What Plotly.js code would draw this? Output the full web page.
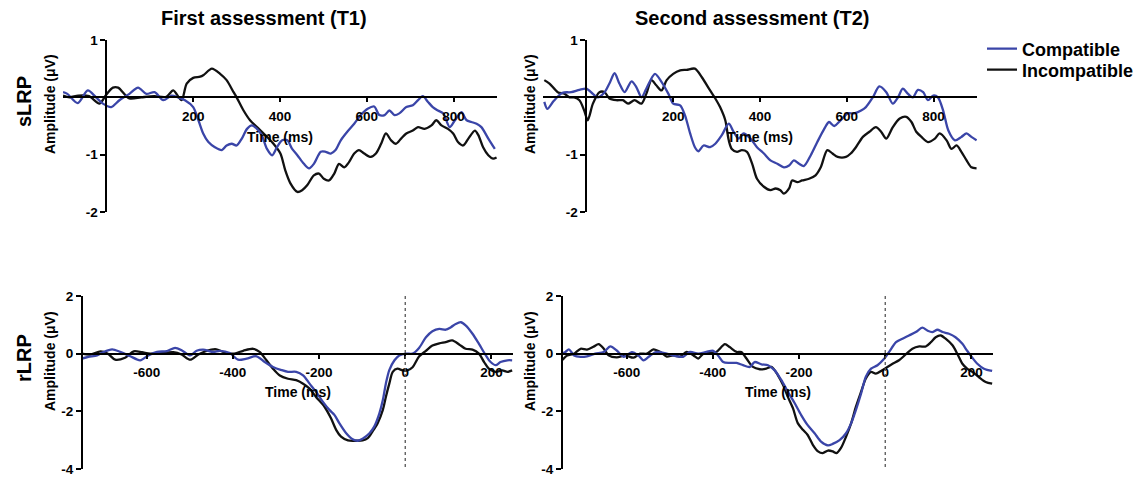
<!DOCTYPE html>
<html>
<head>
<meta charset="utf-8">
<script src="https://cdn.plot.ly/plotly-3.0.1.min.js"></script>
<style>html,body{margin:0;padding:0;background:#fff;}#chart{width:1146px;height:477px;}</style>
</head>
<body>
<div id="chart"></div>
<script>
// ---------- DATA ----------
const seriesNames = ["Compatible", "Incompatible"];
const panelTitles = ["First assessment (T1)", "Second assessment (T2)"];
const rowLabels = ["sLRP", "rLRP"];
const sTicksX = [200, 400, 600, 800];
const sTicksY = [1, -1, -2];
const rTicksX = [-600, -400, -200, 0, 200];
const rTicksY = [2, 0, -2, -4];

// sLRP, T1
const sT1_incTime = [-100,-85,-65,-40,-16,0,15,27,53,80,110,138,154,173,185,200,216,224,243,262,277,293,300,316,331,347,370,385,401,412,424,440,451,463,478,490,501,513,525,536,548,559,571,582,594,609,621,633,644,656,667,679,691,706,718,733,749,760,772,787,799,810,822,834,849,857,868,880,891,899];
const sT1_inc = [0.03,0.0,0.03,0.02,-0.11,0.05,0.17,0.17,-0.02,0.0,0.02,0.01,0.12,-0.05,0.24,0.34,0.36,0.39,0.5,0.41,0.3,0.09,0.0,-0.23,-0.4,-0.52,-0.69,-0.81,-0.98,-1.27,-1.5,-1.65,-1.62,-1.53,-1.36,-1.33,-1.42,-1.45,-1.33,-1.16,-1.22,-1.13,-0.98,-0.92,-0.98,-1.04,-0.98,-0.81,-0.63,-0.75,-0.81,-0.72,-0.63,-0.58,-0.52,-0.55,-0.49,-0.4,-0.49,-0.55,-0.63,-0.78,-0.84,-0.72,-0.58,-0.66,-0.87,-1.01,-1.07,-1.05];
const sT1_compTime = [-100,-90,-66,-43,-24,-8,11,30,53,73,92,111,131,150,165,181,200,212,223,235,250,266,277,289,300,312,324,335,347,358,370,382,393,405,417,428,440,455,467,478,494,505,517,528,540,555,571,586,602,617,629,641,652,664,675,691,706,718,729,741,752,764,776,791,803,818,830,841,853,864,880,895];
const sT1_comp = [0.09,0.06,-0.1,0.12,0.0,-0.11,-0.17,-0.05,0.06,0.17,0.06,0.09,-0.05,0.03,0.0,-0.05,-0.17,-0.4,-0.63,-0.78,-0.87,-0.92,-0.84,-0.81,-0.84,-0.72,-0.55,-0.49,-0.55,-0.66,-0.9,-1.01,-0.87,-0.75,-0.75,-0.9,-1.01,-1.16,-1.24,-1.16,-0.95,-0.95,-0.98,-0.92,-0.75,-0.6,-0.46,-0.31,-0.2,-0.16,-0.31,-0.31,-0.23,-0.31,-0.28,-0.17,-0.14,-0.05,0.02,-0.08,-0.17,-0.23,-0.28,-0.52,-0.4,-0.26,-0.4,-0.43,-0.46,-0.52,-0.72,-0.9];

// sLRP, T2
const sT2_incTime = [-97,-85,-66,-50,-39,-28,-16,-5,3,15,30,42,53,69,84,96,111,127,138,150,161,173,185,200,216,231,250,266,285,297,308,320,328,335,347,358,370,382,393,409,424,436,447,455,467,474,486,497,513,528,540,555,567,579,598,609,621,637,652,667,679,691,706,722,737,749,760,772,787,803,814,830,841,853,864,876,887,899];
const sT2_inc = [0.3,0.24,0.09,0.06,0.0,0.0,-0.05,-0.23,-0.4,-0.11,0.09,0.09,-0.02,-0.05,-0.05,-0.11,-0.05,-0.11,0.06,0.3,0.21,0.12,0.3,0.41,0.47,0.48,0.5,0.35,0.12,-0.02,-0.17,-0.4,-0.75,-0.9,-0.95,-0.92,-0.95,-1.16,-1.42,-1.56,-1.62,-1.59,-1.62,-1.68,-1.59,-1.45,-1.48,-1.45,-1.42,-1.36,-1.22,-0.92,-0.98,-1.04,-1.04,-0.98,-0.87,-0.69,-0.6,-0.52,-0.6,-0.72,-0.52,-0.37,-0.34,-0.43,-0.6,-0.69,-0.78,-0.72,-0.63,-0.75,-0.9,-0.84,-0.95,-1.1,-1.22,-1.24];
const sT2_compTime = [-97,-90,-75,-55,-35,-16,0,15,26,42,53,65,76,88,104,115,127,138,158,173,189,200,216,227,239,250,258,270,285,297,312,328,339,351,362,378,393,409,424,440,455,467,478,490,501,517,532,548,559,571,586,602,617,633,644,660,675,691,706,718,729,741,752,764,776,787,799,810,822,834,849,864,876,887,899];
const sT2_comp = [-0.08,-0.2,-0.06,0.08,0.09,0.13,0.15,0.06,0.0,0.09,0.24,0.42,0.24,0.09,0.28,0.18,0.0,0.15,0.41,0.27,0.06,-0.11,-0.14,-0.31,-0.63,-0.87,-0.94,-0.84,-0.87,-0.81,-0.66,-0.46,-0.6,-0.72,-0.63,-0.72,-0.87,-0.98,-1.1,-1.16,-1.22,-1.19,-1.1,-1.16,-1.2,-1.01,-0.78,-0.55,-0.43,-0.5,-0.4,-0.28,-0.28,-0.23,-0.17,0.0,0.19,0.09,-0.11,0.0,0.15,0.06,0.0,0.13,0.09,-0.05,0.03,0.0,-0.23,-0.58,-0.75,-0.69,-0.63,-0.69,-0.75];

// rLRP, T1
const rT1_incTime = [-750,-731,-707,-690,-673,-650,-630,-611,-592,-569,-538,-519,-499,-480,-461,-438,-415,-399,-376,-353,-338,-322,-307,-291,-272,-253,-237,-222,-207,-187,-172,-160,-149,-133,-114,-99,-87,-76,-64,-52,-45,-37,-29,-18,-6,5,17,32,48,63,79,94,109,125,140,156,171,183,194,210,225,237,248];
const rT1_inc = [0.0,-0.03,0.08,0.0,-0.21,-0.14,0.08,0.05,0.0,0.02,0.05,-0.03,-0.21,-0.03,0.1,0.15,0.02,0.0,0.1,0.17,0.06,-0.23,-0.52,-0.76,-0.87,-0.92,-1.04,-1.21,-1.5,-1.85,-2.25,-2.65,-2.88,-3.01,-3.02,-3.01,-2.93,-2.7,-2.41,-1.95,-1.5,-1.04,-0.63,-0.52,-0.58,-0.58,-0.47,-0.1,0.1,0.28,0.36,0.4,0.46,0.32,0.17,0.14,0.0,-0.29,-0.52,-0.63,-0.58,-0.63,-0.58];
const rT1_compTime = [-750,-735,-715,-700,-680,-661,-638,-615,-596,-576,-553,-534,-518,-499,-484,-469,-445,-430,-407,-388,-368,-345,-326,-307,-287,-272,-253,-237,-222,-207,-191,-176,-164,-153,-137,-122,-110,-99,-83,-72,-60,-52,-45,-37,-25,-14,2,17,32,48,63,79,94,106,117,129,140,156,171,187,198,210,221,237,248];
const rT1_comp = [-0.17,-0.11,-0.06,0.06,0.15,0.06,-0.09,-0.23,-0.06,0.06,0.09,0.2,0.11,-0.06,0.1,0.14,0.06,0.1,0.02,-0.21,-0.17,-0.09,-0.29,-0.46,-0.57,-0.63,-0.63,-0.75,-1.04,-1.32,-1.67,-1.95,-2.13,-2.41,-2.76,-2.97,-3.02,-2.95,-2.76,-2.53,-2.07,-1.61,-1.04,-0.57,-0.23,-0.06,0.0,0.0,0.2,0.57,0.78,0.86,0.83,0.92,1.03,1.09,0.98,0.69,0.34,-0.06,-0.29,-0.4,-0.29,-0.23,-0.23];

// rLRP, T2
const rT2_incTime = [-750,-738,-722,-707,-692,-677,-665,-653,-642,-623,-603,-584,-569,-553,-538,-522,-507,-492,-476,-461,-445,-434,-422,-407,-392,-372,-361,-345,-334,-322,-307,-291,-276,-264,-249,-237,-226,-214,-203,-191,-180,-168,-156,-145,-133,-122,-113,-103,-91,-79,-68,-56,-45,-33,-22,-6,5,17,32,48,63,79,94,106,117,129,140,156,167,179,190,202,217,233,248];
const rT2_inc = [-0.23,-0.06,0.0,0.17,0.14,0.24,0.33,0.17,-0.06,-0.13,-0.06,-0.14,0.0,0.0,0.15,0.06,-0.1,-0.06,-0.1,0.06,-0.06,-0.17,0.0,0.02,0.06,0.33,0.23,0.06,0.06,-0.17,-0.46,-0.54,-0.52,-0.46,-0.75,-1.09,-1.5,-1.9,-2.41,-2.64,-2.82,-3.16,-3.39,-3.45,-3.36,-3.39,-3.45,-3.28,-2.88,-2.41,-1.84,-1.32,-0.86,-0.63,-0.69,-0.57,-0.46,-0.35,-0.23,-0.02,0.17,0.25,0.25,0.4,0.57,0.63,0.52,0.29,0.0,-0.35,-0.52,-0.63,-0.81,-0.98,-1.04];
const rT2_compTime = [-750,-742,-734,-722,-707,-692,-673,-653,-638,-623,-607,-588,-573,-561,-545,-530,-507,-484,-469,-453,-434,-415,-399,-388,-376,-361,-345,-330,-314,-303,-287,-272,-257,-241,-226,-210,-195,-180,-164,-149,-133,-122,-106,-91,-79,-68,-56,-45,-33,-18,-2,9,25,40,55,71,86,98,109,121,133,148,163,179,190,202,213,229,248];
const rT2_comp = [0.0,0.06,0.15,-0.06,-0.11,-0.09,0.0,0.06,0.25,0.11,-0.11,0.05,-0.06,-0.23,-0.06,0.06,0.0,-0.09,-0.11,0.06,0.0,0.06,0.1,-0.06,-0.29,-0.32,-0.32,-0.4,-0.46,-0.29,-0.37,-0.4,-0.57,-0.92,-1.32,-1.72,-2.13,-2.48,-2.76,-3.05,-3.18,-3.13,-3.0,-2.76,-2.41,-1.95,-1.38,-0.8,-0.52,-0.4,-0.17,0.06,0.4,0.52,0.63,0.75,0.9,0.8,0.75,0.83,0.75,0.69,0.57,0.34,0.1,-0.14,-0.34,-0.52,-0.6];

// ---------- STYLE / LAYOUT ----------
const W = 1146, H = 477;
const BLUE = '#3a45a8', BLACK = '#111111';
const FONT = 'Liberation Sans, Arial, Helvetica, sans-serif';
const px = x => x / W;
const py = y => 1 - y / H;

// panel pixel boxes [left, right, top, bottom]
const panels = [
  {xr: [-100, 900], yr: [-2, 1], box: [63, 497, 40, 212], xt: sTicksX, yt: sTicksY, yAtZero: true},
  {xr: [-100, 900], yr: [-2, 1], box: [543, 977, 40, 212], xt: sTicksX, yt: sTicksY, yAtZero: true},
  {xr: [-750, 250], yr: [-4, 2], box: [82, 513, 296, 469], xt: rTicksX, yt: rTicksY, yAtZero: false},
  {xr: [-750, 250], yr: [-4, 2], box: [562, 993, 296, 469], xt: rTicksX, yt: rTicksY, yAtZero: false}
];

const legendFont = {family: FONT, size: 18, weight: 'bold', color: '#000'};
const layout = {
  width: W, height: H,
  margin: {l: 0, r: 0, t: 0, b: 0},
  paper_bgcolor: '#fff', plot_bgcolor: 'rgba(0,0,0,0)',
  font: {family: FONT, color: '#000'},
  showlegend: true,
  legend: {x: px(982), y: py(49), xanchor: 'left', yanchor: 'middle', bgcolor: 'rgba(0,0,0,0)',
           font: legendFont, itemwidth: 30, tracegroupgap: 0},
  legend2: {x: px(982), y: py(70), xanchor: 'left', yanchor: 'middle', bgcolor: 'rgba(0,0,0,0)',
           font: legendFont, itemwidth: 30, tracegroupgap: 0},
  annotations: [], shapes: []
};

panels.forEach((p, i) => {
  const n = i === 0 ? '' : String(i + 1);
  const xd = [px(p.box[0]), px(p.box[1])];
  const yd = [py(p.box[3]), py(p.box[2])];
  const yZeroPos = yd[0] + (0 - p.yr[0]) / (p.yr[1] - p.yr[0]) * (yd[1] - yd[0]);
  const xZeroPos = p.yAtZero ? xd[0] + (0 - p.xr[0]) / (p.xr[1] - p.xr[0]) * (xd[1] - xd[0]) : xd[0];
  layout['xaxis' + n] = {
    domain: xd, range: p.xr, anchor: 'free', position: yZeroPos,
    showgrid: false, zeroline: false, showline: true, linecolor: '#000', linewidth: 2,
    ticks: 'outside', ticklen: 4, tickwidth: 2, tickcolor: '#000',
    tickmode: 'array', tickvals: p.xt, ticktext: p.xt.map(String),
    tickfont: {family: FONT, size: 13.5, weight: 'bold', color: '#000'}, ticklabelstandoff: 2,
    fixedrange: true
  };
  layout['yaxis' + n] = {
    domain: yd, range: p.yr, anchor: 'free', position: xZeroPos,
    showgrid: false, zeroline: false, showline: true, linecolor: '#000', linewidth: 2,
    ticks: 'outside', ticklen: 5, tickwidth: 2, tickcolor: '#000',
    tickmode: 'array', tickvals: p.yt, ticktext: p.yt.map(String),
    tickfont: {family: FONT, size: 13.5, weight: 'bold', color: '#000'},
    fixedrange: true
  };
  // axis titles
  const xMid = (p.box[0] + p.box[1]) / 2;
  const titleY = i < 2 ? 137 : 392;
  layout.annotations.push({text: 'Time (ms)', xref: 'paper', yref: 'paper', x: px(xMid), y: py(titleY),
    xanchor: 'center', yanchor: 'middle', showarrow: false,
    font: {family: FONT, size: 14, weight: 'bold', color: '#000'}});
  layout.annotations.push({text: 'Amplitude (\u03bcV)', xref: 'paper', yref: 'paper',
    x: px(i % 2 === 0 ? 50 : 530), y: py(i < 2 ? 104 : 361), textangle: -90,
    xanchor: 'center', yanchor: 'middle', showarrow: false,
    font: {family: FONT, size: 14, weight: 'bold', color: '#000'}});
  // response onset line in rLRP panels
  if (!p.yAtZero) {
    layout.shapes.push({type: 'line', xref: 'x' + n, yref: 'y' + n, x0: 0, x1: 0, y0: p.yr[1], y1: p.yr[0],
      line: {color: '#555', width: 1.3, dash: 'dot'}});
  }
});

layout.annotations.push(
  {text: panelTitles[0], xref: 'paper', yref: 'paper', x: px(264), y: py(18), xanchor: 'center', yanchor: 'middle', showarrow: false,
   font: {family: FONT, size: 20, weight: 'bold', color: '#000'}},
  {text: panelTitles[1], xref: 'paper', yref: 'paper', x: px(752), y: py(18), xanchor: 'center', yanchor: 'middle', showarrow: false,
   font: {family: FONT, size: 20, weight: 'bold', color: '#000'}},
  {text: rowLabels[0], xref: 'paper', yref: 'paper', x: px(24), y: py(102), textangle: -90, xanchor: 'center', yanchor: 'middle', showarrow: false,
   font: {family: FONT, size: 20, weight: 'bold', color: '#000'}},
  {text: rowLabels[1], xref: 'paper', yref: 'paper', x: px(24), y: py(358), textangle: -90, xanchor: 'center', yanchor: 'middle', showarrow: false,
   font: {family: FONT, size: 20, weight: 'bold', color: '#000'}}
);

const series = [
  [sT1_compTime, sT1_comp, sT1_incTime, sT1_inc],
  [sT2_compTime, sT2_comp, sT2_incTime, sT2_inc],
  [rT1_compTime, rT1_comp, rT1_incTime, rT1_inc],
  [rT2_compTime, rT2_comp, rT2_incTime, rT2_inc]
];

const traces = [];
series.forEach((s, i) => {
  const n = i === 0 ? '' : String(i + 1);
  traces.push({x: s[2], y: s[3], type: 'scatter', mode: 'lines', name: seriesNames[1],
    xaxis: 'x' + n, yaxis: 'y' + n, line: {color: BLACK, width: 2.3, shape: 'spline', smoothing: 0.8},
    showlegend: i === 0, legend: 'legend2', hoverinfo: 'skip'});
  traces.push({x: s[0], y: s[1], type: 'scatter', mode: 'lines', name: seriesNames[0],
    xaxis: 'x' + n, yaxis: 'y' + n, line: {color: BLUE, width: 2.3, shape: 'spline', smoothing: 0.8},
    showlegend: i === 0, legend: 'legend', hoverinfo: 'skip'});
});

Plotly.newPlot('chart', traces, layout, {staticPlot: true, displayModeBar: false});
</script>
</body>
</html>
